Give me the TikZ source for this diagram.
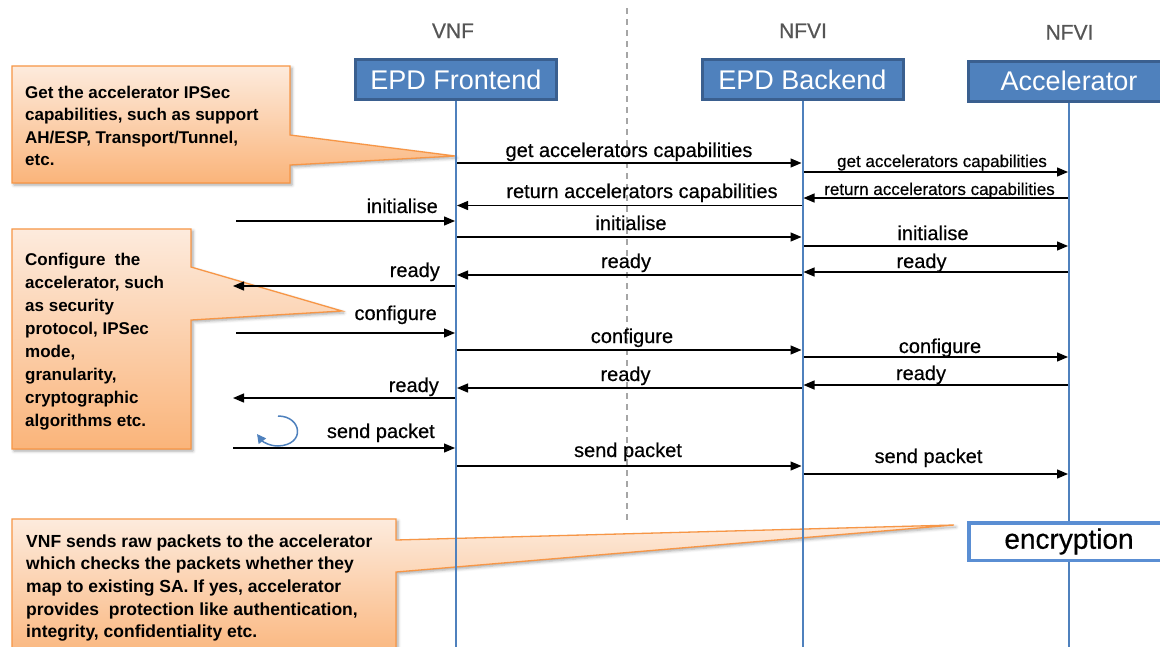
\documentclass[tikz,border=0pt]{standalone}
\usepackage{fontspec}
\setmainfont{Liberation Sans}
\newfontfamily\heavysans{Liberation Sans}[FakeBold=0.5]
\usetikzlibrary{arrows.meta,shadows.blur}

\definecolor{lifeblue}{HTML}{4F81BD}
\definecolor{hdrborder}{HTML}{3A5F8F}
\definecolor{encblue}{HTML}{5A8ED3}
\definecolor{notetop}{HTML}{FDEBDD}
\definecolor{notebot}{HTML}{FAB47A}
\definecolor{noteline}{HTML}{F79646}
\definecolor{tiergrey}{HTML}{555555}
\definecolor{sepgrey}{HTML}{A6A6A6}

\newcommand\fsz[2]{\fontsize{#1}{#2}\selectfont}

\begin{document}
\begin{tikzpicture}[x=1pt,y=-1pt,
  hdr/.style={draw=hdrborder, line width=3pt, fill=lifeblue, text=white,
    font=\fsz{27}{32}, minimum width=201pt, minimum height=40pt, inner sep=0pt},
  tier/.style={text=tiergrey, font=\heavysans\fsz{21}{24}, inner sep=0pt, anchor=base},
  life/.style={draw=lifeblue, line width=2pt},
  msg/.style={draw=black, line width=1.3pt, shorten >=1pt, shorten <=1pt,
    -{Triangle[length=11pt,width=9pt]}},
  lbl/.style={font=\heavysans\fsz{20}{24}, inner sep=0pt, anchor=base},
  slbl/.style={font=\heavysans\fsz{17}{20}, inner sep=0pt, anchor=base},
  notebox/.style={draw=noteline, line width=1.3pt, top color=notetop, bottom color=notebot,
    blur shadow={shadow xshift=2pt, shadow yshift=-2pt, shadow blur radius=3pt, shadow opacity=35}},
  notetext/.style={font=\bfseries\fsz{17}{22.4}, align=left, anchor=north west, inner sep=0pt},
  loopy/.style={draw=lifeblue, line width=1.5pt, -{Triangle[length=9pt,width=9pt]}},
]
\useasboundingbox (0,0) rectangle (1160,646);
\clip (0,0) rectangle (1160,646);

% explanatory callouts
\path[notebox] (12,66) -- (290,66) -- (290,135) -- (455,156) -- (290,165) -- (290,183) -- (12,183) -- cycle;
\path[notebox] (12,229) -- (191,229) -- (191,267) -- (342,311) -- (191,320) -- (191,449) -- (12,449) -- cycle;
\path[notebox] (12,519) -- (396,519) -- (396,540) -- (954,525) -- (396,572) -- (396,662) -- (12,662) -- cycle;

\node[notetext] (n1) at (25,85.7) {Get the accelerator IPSec\\capabilities, such as support\\AH/ESP, Transport/Tunnel,\\etc.};
\node[notetext, font=\bfseries\fsz{17}{23}] (n2) at (25,252.8) {Configure\ \ the\\accelerator, such\\as security\\protocol, IPSec\\mode,\\granularity,\\cryptographic\\algorithms etc.};
\node[notetext, font=\bfseries\fsz{17.5}{22.7}] (n3) at (26,534.3) {VNF sends raw packets to the accelerator\\which checks the packets whether they\\map to existing SA. If yes, accelerator\\provides\ \ protection like authentication,\\integrity, confidentiality etc.};

% VNF / NFVI separator
\draw[sepgrey, line width=1.2pt, dash pattern=on 6pt off 5pt] (627,8) -- (627,520);

% tiers and participants
\node[tier] (t1) at (453,38) {VNF};
\node[tier] (t2) at (803,38) {NFVI};
\node[tier] (t3) at (1069.5,39.5) {NFVI};

\node[hdr] (fe) at (456,79.5) {EPD Frontend};
\node[hdr] (be) at (802.5,79.5) {EPD Backend};
\node[hdr] (acc) at (1069,81) {Accelerator};

% lifelines
\draw[life] (fe.south) -- (fe.south |- 0,660);
\draw[life] (be.south) -- (be.south |- 0,660);
\draw[life] (acc.south) -- (acc.south |- 0,660);

% free ends of the messages on the left
\coordinate (inL) at (235,221);
\coordinate (rdA) at (232,286);
\coordinate (cfL) at (235,333);
\coordinate (rdB) at (232,398);
\coordinate (spL) at (232,448);

% capabilities
\draw[msg] (fe.south |- 0,163) -- (be.south |- 0,163);
\node[lbl] (l1) at (629,157) {get accelerators capabilities};
\draw[msg] (be.south |- 0,172) -- (acc.south |- 0,172);
\node[slbl] (l2) at (942,167) {get accelerators capabilities};
\draw[msg] (acc.south |- 0,198) -- (be.south |- 0,198);
\node[slbl] (l3) at (939.5,195) {return accelerators capabilities};
\draw[msg] (be.south |- 0,205.5) -- (fe.south |- 0,205.5);
\node[lbl] (l4) at (642,198) {return accelerators capabilities};

% initialisation
\draw[msg] (inL) -- (fe.south |- inL);
\node[lbl, anchor=base east] (l5) at (438,213) {initialise};
\draw[msg] (fe.south |- 0,237) -- (be.south |- 0,237);
\node[lbl] (l6) at (631,230) {initialise};
\draw[msg] (be.south |- 0,246) -- (acc.south |- 0,246);
\node[lbl] (l7) at (933,240) {initialise};
\draw[msg] (acc.south |- 0,272) -- (be.south |- 0,272);
\node[lbl] (l8) at (921.5,268) {ready};
\draw[msg] (be.south |- 0,275) -- (fe.south |- 0,275);
\node[lbl] (l9) at (626,268) {ready};
\draw[msg] (fe.south |- rdA) -- (rdA);
\node[lbl, anchor=base east] (l10) at (440,277) {ready};

% configuration
\draw[msg] (cfL) -- (fe.south |- cfL);
\node[lbl, anchor=base east] (l11) at (437,320) {configure};
\draw[msg] (fe.south |- 0,350) -- (be.south |- 0,350);
\node[lbl] (l12) at (632,343) {configure};
\draw[msg] (be.south |- 0,357) -- (acc.south |- 0,357);
\node[lbl] (l13) at (940,353) {configure};
\draw[msg] (acc.south |- 0,385) -- (be.south |- 0,385);
\node[lbl] (l14) at (921,380) {ready};
\draw[msg] (be.south |- 0,388) -- (fe.south |- 0,388);
\node[lbl] (l15) at (625.5,381) {ready};
\draw[msg] (fe.south |- rdB) -- (rdB);
\node[lbl, anchor=base east] (l16) at (439,392) {ready};

% packet path
\draw[loopy] (278,416) .. controls (302,416) and (306,445) .. (278,446)
  .. controls (270,446) and (263,442) .. (257,434);
\draw[msg] (spL) -- (fe.south |- spL);
\node[lbl, anchor=base east] (l17) at (435,438) {send packet};
\draw[msg] (fe.south |- 0,466) -- (be.south |- 0,466);
\node[lbl] (l18) at (628,457) {send packet};
\draw[msg] (be.south |- 0,474) -- (acc.south |- 0,474);
\node[lbl] (l19) at (928.5,463) {send packet};

% processing step on the accelerator
\node[draw=encblue, line width=3.5pt, fill=white, minimum width=200.5pt, minimum height=37.5pt,
  inner sep=0pt, font=\heavysans\fsz{28}{32}] (enc) at (1069,541.5) {encryption};
\end{tikzpicture}
\end{document}
